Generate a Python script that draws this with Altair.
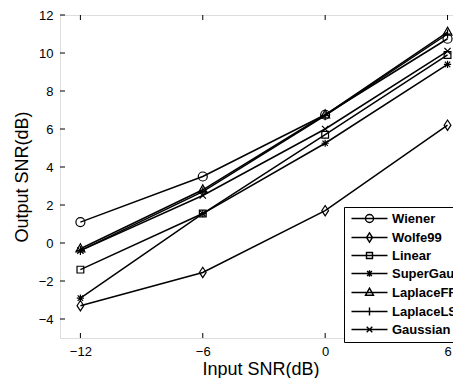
import altair as alt
import pandas as pd

snr_in = [-12, -6, 0, 6]
series_names = ["Wiener", "Wolfe99", "Linear", "SuperGauss", "LaplaceFFT", "LaplaceLS", "Gaussian"]
wiener = [1.1, 3.5, 6.75, 10.75]
wolfe99 = [-3.3, -1.55, 1.7, 6.2]
linear = [-1.4, 1.55, 5.7, 9.9]
supergauss = [-2.9, 1.55, 5.25, 9.4]
laplacefft = [-0.3, 2.8, 6.75, 11.1]
laplacels = [-0.4, 2.7, 6.7, 11.0]
gaussian = [-0.4, 2.5, 6.0, 10.1]
x_ticks = [-12, -6, 0, 6]
y_ticks = [-4, -2, 0, 2, 4, 6, 8, 10, 12]

values = [wiener, wolfe99, linear, supergauss, laplacefft, laplacels, gaussian]
rows = []
for name, vals in zip(series_names, values):
    for xv, yv in zip(snr_in, vals):
        rows.append({"series": name, "x": xv, "y": yv})
df = pd.DataFrame(rows)

# marker paths (unit coords)
marker = [
    "M1,0A1,1 0 1,1 -1,0A1,1 0 1,1 1,0Z",
    "M0,-1.15L0.75,0L0,1.15L-0.75,0Z",
    "M-0.75,-0.75L0.75,-0.75L0.75,0.75L-0.75,0.75Z",
    "M-0.8,0L0.8,0M0,-0.8L0,0.8M-0.6,-0.6L0.6,0.6M-0.6,0.6L0.6,-0.6",
    "M0,-1.1L1,0.7L-1,0.7Z",
    "M-1,0L1,0M0,-1L0,1",
    "M-0.7,-0.7L0.7,0.7M-0.7,0.7L0.7,-0.7",
]
leg_line = "M-4.5,0L4.5,0"
legend_paths = [leg_line + p for p in marker]
stroke_w = [1.2, 1.2, 1.2, 2.2, 1.2, 1.2, 2.2]

W, H = 401, 323
FONT = "Liberation Sans"

xs = alt.Scale(domain=[-13, 6.66], nice=False, zero=False)
ys = alt.Scale(domain=[-5, 12], nice=False, zero=False)

x_enc = alt.X("x:Q", scale=xs,
              axis=alt.Axis(values=x_ticks, ticks=False, domain=False, grid=False,
                            labelFont=FONT, labelFontSize=13, labelColor="black",
                            labelPadding=7, title="Input SNR(dB)", titleFont=FONT,
                            titleFontSize=18, titleFontWeight="normal", titleColor="black",
                            titlePadding=2))
y_enc = alt.Y("y:Q", scale=ys,
              axis=alt.Axis(values=y_ticks, ticks=False, domain=False, grid=False,
                            labelFont=FONT, labelFontSize=13, labelColor="black",
                            labelPadding=7, title="Output SNR(dB)", titleFont=FONT,
                            titleFontSize=18, titleFontWeight="normal", titleColor="black",
                            titlePadding=7))

base = alt.Chart(df)

lines = base.mark_line(color="black", strokeWidth=1.5, clip=True).encode(
    x=x_enc, y=y_enc, detail="series:N",
)

points = base.mark_point(filled=False, color="black", size=81, clip=True, opacity=1).encode(
    x="x:Q", y="y:Q",
    shape=alt.Shape("series:N", scale=alt.Scale(domain=series_names, range=marker), legend=None),
    strokeWidth=alt.StrokeWidth("series:N", scale=alt.Scale(domain=series_names, range=stroke_w), legend=None),
)

legend_layer = base.mark_point(filled=False, color="black", size=64, opacity=0).encode(
    x="x:Q", y="y:Q",
    shape=alt.Shape("series:N", scale=alt.Scale(domain=series_names, range=legend_paths),
                    legend=alt.Legend(title=None, orient="none", legendX=284, legendY=192,
                                      padding=5, rowPadding=4, symbolOffset=14, labelOffset=16,
                                      symbolSize=64, symbolOpacity=1, symbolStrokeColor="black",
                                      symbolStrokeWidth=1.4, symbolFillColor="transparent",
                                      labelFont=FONT, labelFontSize=13, labelFontWeight="bold",
                                      labelColor="black", labelLimit=300,
                                      strokeColor="black", fillColor="white")),
)

tick_y_df = pd.DataFrame({"y": y_ticks})
tick_x_df = pd.DataFrame({"x": x_ticks})

left_ticks = alt.Chart(tick_y_df).mark_rule(color="black", strokeWidth=1).encode(
    y="y:Q", x=alt.value(0), x2=alt.value(5))
top_ticks = alt.Chart(tick_x_df).mark_rule(color="black", strokeWidth=1).encode(
    x="x:Q", y=alt.value(0), y2=alt.value(5))
bottom_ticks = alt.Chart(tick_x_df).mark_rule(color="black", strokeWidth=1).encode(
    x="x:Q", y=alt.value(H - 5), y2=alt.value(H))

chart = alt.layer(lines, points, legend_layer, left_ticks, top_ticks, bottom_ticks).resolve_scale(
    shape="independent", strokeWidth="independent"
).properties(
    width=W, height=H,
    padding={"left": 52, "top": 7, "right": -8, "bottom": 40},
    autosize=alt.AutoSizeParams(type="none"),
).configure_view(stroke="black", strokeWidth=1).configure(background="white")

chart.save("out.html", embed_options={"renderer": "svg", "actions": False})
